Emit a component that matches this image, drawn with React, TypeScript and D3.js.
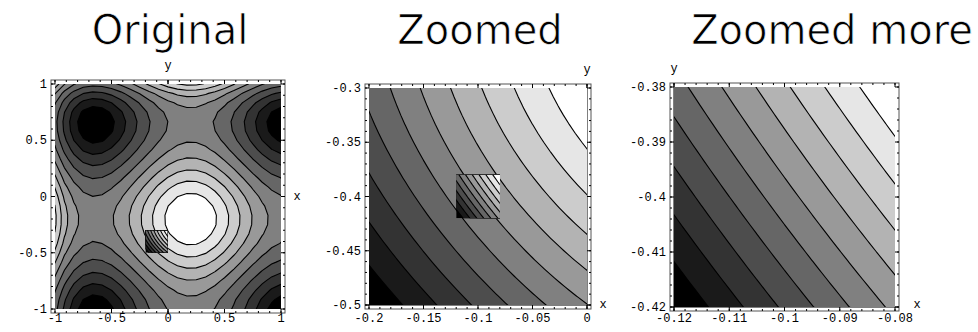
import React from 'react';
import * as d3 from 'd3';

// surface: peak (white) near (0.2,-0.2), troughs 0.85 away on each axis
const peakX = 0.2;
const peakY = -0.2;
const halfPeriod = 0.85;
// 1-D profile = blend of a cosine and a quartic with the same peak/troughs
const cosWeight = 0.42;
const quarticWeight = 0.58;
// polynomial applied to the summed profiles (keeps saddles mid-range, sharpens troughs)
const shapeCoefs = [0, 0.7875, 0.0438, 0.053, -0.0109];

const contourCount = 10;
const plotPoints = 25;

const titles = ['Original', 'Zoomed', 'Zoomed more'];
const xDomains = [[-1, 1], [-0.2, 0], [-0.12, -0.08]];
const yDomains = [[-1, 1], [-0.5, -0.3], [-0.42, -0.38]];
const xTicks = [[-1, -0.5, 0, 0.5, 1], [-0.2, -0.15, -0.1, -0.05, 0], [-0.12, -0.11, -0.1, -0.09, -0.08]];
const xTickLabels = [['-1', '-0.5', '0', '0.5', '1'], ['-0.2', '-0.15', '-0.1', '-0.05', '0'], ['-0.12', '-0.11', '-0.1', '-0.09', '-0.08']];
const yTicks = [[-1, -0.5, 0, 0.5, 1], [-0.5, -0.45, -0.4, -0.35, -0.3], [-0.42, -0.41, -0.4, -0.39, -0.38]];
const yTickLabels = [['-1', '-0.5', '0', '0.5', '1'], ['-0.5', '-0.45', '-0.4', '-0.35', '-0.3'], ['-0.42', '-0.41', '-0.4', '-0.39', '-0.38']];
const minorSteps = [0.1, 0.01, 0.002];
const axisOrigins = [[0, 0], [0, -0.5], [-0.12, -0.42]];

// layout
const boxes = [
  { left: 55, right: 281, top: 84, bottom: 309, titleX: 170, xLabelDx: 16, xLabelDy: 3 },
  { left: 369, right: 587, top: 88, bottom: 305, titleX: 480, xLabelDx: 16, xLabelDy: 3 },
  { left: 674, right: 895, top: 87, bottom: 307, titleX: 832, xLabelDx: 22, xLabelDy: 1 },
];
const pad = 4;
const monoFont = "'Liberation Mono', 'DejaVu Sans Mono', monospace";
const tickSize = 12;

const profile = (u: number) => {
  const k = Math.PI / halfPeriod;
  const e = 1 - (u * u) / (halfPeriod * halfPeriod);
  return cosWeight * Math.cos(k * u) + quarticWeight * (2 * e * e - 1);
};

const surface = (x: number, y: number) => {
  const g = profile(x - peakX) + profile(y - peakY);
  return shapeCoefs.reduce((s, c, p) => s + c * Math.pow(g, p), 0);
};

// sample like Mathematica (plotPoints x plotPoints incl. edges), 10 equally spaced levels
function buildContours(xd: number[], yd: number[]) {
  const n = plotPoints;
  const vals: number[] = [];
  for (let j = 0; j < n; j++) {
    for (let i = 0; i < n; i++) {
      const x = xd[0] + (i * (xd[1] - xd[0])) / (n - 1);
      const y = yd[1] - (j * (yd[1] - yd[0])) / (n - 1);
      vals.push(surface(x, y));
    }
  }
  const [lo, hi] = d3.extent(vals) as [number, number];
  const thresholds = d3.range(1, contourCount + 1).map(i => lo + ((hi - lo) * i) / (contourCount + 1));
  return d3.contours().size([n, n]).thresholds(thresholds)(vals);
}

const bandColor = (i: number) => {
  const v = Math.round((255 * i) / contourCount);
  return `rgb(${v},${v},${v})`;
};

const allContours = xDomains.map((xd, i) => buildContours(xd, yDomains[i]));

function contourPaths(idx: number, sx: d3.ScaleLinear<number, number>, sy: d3.ScaleLinear<number, number>) {
  const xd = xDomains[idx];
  const yd = yDomains[idx];
  const n = plotPoints;
  const proj = d3.geoTransform({
    point: function (gx: number, gy: number) {
      const x = xd[0] + ((gx - 0.5) * (xd[1] - xd[0])) / (n - 1);
      const y = yd[1] - ((gy - 0.5) * (yd[1] - yd[0])) / (n - 1);
      this.stream.point(sx(x), sy(y));
    },
  });
  const path = d3.geoPath(proj);
  return allContours[idx].map(c => path(c as any) || '');
}

function ContourBlock({ idx, sx, sy, clipId }: any) {
  const xd = xDomains[idx];
  const yd = yDomains[idx];
  const x0 = sx(xd[0]), x1 = sx(xd[1]);
  const y0 = sy(yd[1]), y1 = sy(yd[0]);
  const paths = contourPaths(idx, sx, sy);
  return (
    <g>
      <clipPath id={clipId}>
        <rect x={x0} y={y0} width={x1 - x0} height={y1 - y0} />
      </clipPath>
      <g clipPath={`url(#${clipId})`}>
        <rect x={x0} y={y0} width={x1 - x0} height={y1 - y0} fill={bandColor(0)} />
        {paths.map((d, i) => (
          <path key={'f' + i} d={d} fill={bandColor(i + 1)} stroke="none" />
        ))}
        {paths.map((d, i) => (
          <path key={'s' + i} d={d} fill="none" stroke="#000" strokeWidth={1.1} />
        ))}
      </g>
    </g>
  );
}

function Panel({ idx }: { idx: number }) {
  const b = boxes[idx];
  const xd = xDomains[idx];
  const yd = yDomains[idx];
  const sx = d3.scaleLinear().domain(xd).range([b.left, b.right]);
  const sy = d3.scaleLinear().domain(yd).range([b.bottom, b.top]);
  const fl = b.left - pad, fr = b.right + pad, ft = b.top - pad, fb = b.bottom + pad;
  const step = minorSteps[idx];
  const minorX = d3.range(Math.round((xd[1] - xd[0]) / step) + 1).map(i => xd[0] + i * step);
  const minorY = d3.range(Math.round((yd[1] - yd[0]) / step) + 1).map(i => yd[0] + i * step);
  const [ox, oy] = axisOrigins[idx];
  return (
    <g>
      {/* axes lie under the shading, only their ends show in the padding */}
      <line x1={fl} x2={fr} y1={sy(oy)} y2={sy(oy)} stroke="#000" />
      <line x1={sx(ox)} x2={sx(ox)} y1={ft} y2={fb} stroke="#000" />
      <ContourBlock idx={idx} sx={sx} sy={sy} clipId={'clip' + idx} />
      {idx < 2 && <ContourBlock idx={idx + 1} sx={sx} sy={sy} clipId={'inset' + idx} />}
      <rect x={fl} y={ft} width={fr - fl} height={fb - ft} fill="none" stroke="#555" strokeWidth={1} />
      {minorX.map((v, i) => (
        <g key={'mx' + i}>
          <line x1={sx(v)} x2={sx(v)} y1={fb} y2={fb - 2} stroke="#000" />
          <line x1={sx(v)} x2={sx(v)} y1={ft} y2={ft + 2} stroke="#000" />
        </g>
      ))}
      {minorY.map((v, i) => (
        <g key={'my' + i}>
          <line x1={fl} x2={fl + 2} y1={sy(v)} y2={sy(v)} stroke="#000" />
          <line x1={fr} x2={fr - 2} y1={sy(v)} y2={sy(v)} stroke="#000" />
        </g>
      ))}
      {xTicks[idx].map((v, i) => (
        <g key={'x' + i}>
          <line x1={sx(v)} x2={sx(v)} y1={fb} y2={fb - 4} stroke="#000" />
          <line x1={sx(v)} x2={sx(v)} y1={ft} y2={ft + 4} stroke="#000" />
          <text x={sx(v)} y={322} textAnchor="middle" fontFamily={monoFont} fontSize={tickSize}>
            {xTickLabels[idx][i]}
          </text>
        </g>
      ))}
      {yTicks[idx].map((v, i) => (
        <g key={'y' + i}>
          <line x1={fl} x2={fl + 4} y1={sy(v)} y2={sy(v)} stroke="#000" />
          <line x1={fr} x2={fr - 4} y1={sy(v)} y2={sy(v)} stroke="#000" />
          <text x={b.left - 8} y={sy(v) + 4} textAnchor="end" fontFamily={monoFont} fontSize={tickSize}>
            {yTickLabels[idx][i]}
          </text>
        </g>
      ))}
      <text x={sx(ox)} y={b.top - 15} textAnchor="middle" fontFamily={monoFont} fontSize={tickSize}>y</text>
      <text x={b.right + b.xLabelDx} y={sy(oy) + b.xLabelDy} textAnchor="middle" fontFamily={monoFont} fontSize={tickSize}>
        x
      </text>
      <text
        x={b.titleX}
        y={44}
        textAnchor="middle"
        fontFamily="'DejaVu Sans', sans-serif"
        fontSize={40}
        stroke="#fff"
        strokeWidth={0.7}
      >
        {titles[idx]}
      </text>
    </g>
  );
}

export default function App() {
  return (
    <svg width={978} height={332} style={{ position: 'absolute', left: 0, top: 0, background: '#fff' }}>
      <rect width={978} height={332} fill="#fff" />
      {titles.map((t, i) => (
        <Panel key={t} idx={i} />
      ))}
    </svg>
  );
}
